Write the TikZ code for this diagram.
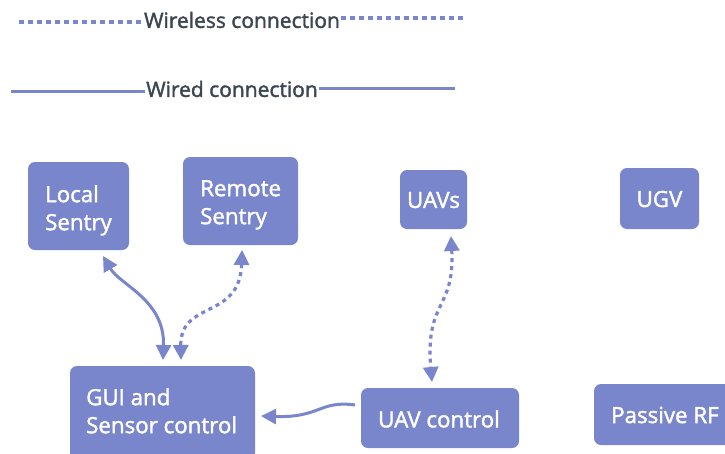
\documentclass[tikz,border=0pt]{standalone}
\usepackage{fontspec}
\setmainfont{Open Sans}
\newfontfamily\semib{Open Sans}[FakeBold=1.8]
\usetikzlibrary{arrows.meta}
\definecolor{boxc}{HTML}{7986CB}
\definecolor{txtc}{HTML}{3C4650}
\tikzset{
  boxtext/.style={text=white, font=\semib\fontsize{22.3}{28}\selectfont, align=left, inner sep=0pt},
  legtext/.style={text=txtc, font=\semib\fontsize{21}{22}\selectfont, inner sep=1pt},
  wired/.style={draw=boxc, line width=3pt},
  wireless/.style={draw=boxc, line width=3.2pt, dash pattern=on 4pt off 4pt},
  legdash/.style={draw=boxc, line width=3.2pt, dash pattern=on 5pt off 4pt},
  tip/.style={-{Triangle[length=15pt,width=15pt]}},
  tips/.style={{Triangle[length=15pt,width=15pt]}-{Triangle[length=15pt,width=15pt]}}
}
\begin{document}
\begin{tikzpicture}[x=1pt,y=-1pt]
\useasboundingbox (0,0) rectangle (725,453);
% legend
\node[legtext] (wl) at (242,20) {Wireless connection};
\coordinate (wl1) at (19,22);
\coordinate (wl2) at (466,18);
\draw[legdash] (wl1) -- (wl.west |- wl1);
\draw[legdash] (wl.east |- wl2) -- (wl2);
\node[legtext] (wd) at (232,89) {Wired connection};
\coordinate (wd1) at (11,91);
\coordinate (wd2) at (455,88);
\draw[wired] (wd1) -- (wd.west |- wd1);
\draw[wired] (wd.east |- wd2) -- (wd2);
% boxes
\fill[boxc, rounded corners=7pt] (28,162) rectangle (129,250);
\node[boxtext, anchor=north west] (ls) at (45,185) {Local\\Sentry};
\coordinate (lsb) at (103,256);
\fill[boxc, rounded corners=7pt] (183,157) rectangle (298,245);
\node[boxtext, anchor=north west] (rs) at (200,180) {Remote\\Sentry};
\coordinate (rsb) at (242,250);
\fill[boxc, rounded corners=7pt] (400,170) rectangle (467,229);
\node[boxtext] (uavs) at (433.5,200) {UAVs};
\coordinate (uavsb) at (451,236);
\fill[boxc, rounded corners=7pt] (620,168) rectangle (699,229);
\node[boxtext] (ugv) at (659.5,199) {UGV};
\fill[boxc, rounded corners=7pt] (70,366) rectangle (255,460);
\node[boxtext, anchor=north west] (gui) at (86,388) {GUI and\\Sensor control};
\coordinate (guit1) at (163,360);
\coordinate (guit2) at (181,360);
\coordinate (guir) at (261,416);
\fill[boxc, rounded corners=7pt] (361,388) rectangle (519,448);
\node[boxtext] (uavc) at (439,419) {UAV control};
\coordinate (uavct) at (432,382);
\coordinate (uavcl) at (355,405);
\fill[boxc, rounded corners=7pt] (594,384) rectangle (740,445);
\node[boxtext, anchor=west] (prf) at (611,415) {Passive RF};
% connectors
\draw[wired, tips] (lsb) .. controls (120,285) and (165,300) .. (guit1);
\draw[wireless, tips] (rsb) .. controls (240,320) and (180,300) .. (guit2);
\draw[wireless, tips] (uavsb) .. controls (455,310) and (425,300) .. (uavct);
\draw[wired, tip] (uavcl) .. controls (320,400) and (320,418) .. (guir);
\end{tikzpicture}
\end{document}
